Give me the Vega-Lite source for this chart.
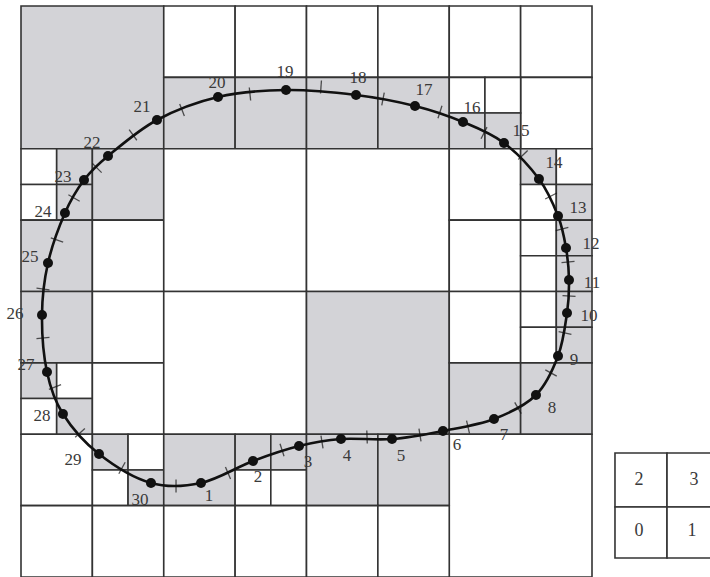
{
  "$schema": "https://vega.github.io/schema/vega-lite/v6.json",
  "width": 571,
  "height": 571,
  "autosize": {"type": "none"},
  "padding": {"left": 21, "top": 6, "right": 118, "bottom": 0},
  "background": "white",
  "config": {"view": {"stroke": null}},
  "datasets": {
    "cells": [
      {"x": 0, "x2": 2, "y": 6, "y2": 8, "shade": "gray"},
      {"x": 2, "x2": 3, "y": 7, "y2": 8, "shade": "white"},
      {"x": 3, "x2": 4, "y": 7, "y2": 8, "shade": "white"},
      {"x": 2, "x2": 3, "y": 6, "y2": 7, "shade": "gray"},
      {"x": 3, "x2": 4, "y": 6, "y2": 7, "shade": "gray"},
      {"x": 4, "x2": 5, "y": 7, "y2": 8, "shade": "white"},
      {"x": 5, "x2": 6, "y": 7, "y2": 8, "shade": "white"},
      {"x": 4, "x2": 5, "y": 6, "y2": 7, "shade": "gray"},
      {"x": 5, "x2": 6, "y": 6, "y2": 7, "shade": "gray"},
      {"x": 6, "x2": 7, "y": 7, "y2": 8, "shade": "white"},
      {"x": 7, "x2": 8, "y": 7, "y2": 8, "shade": "white"},
      {"x": 7, "x2": 8, "y": 6, "y2": 7, "shade": "white"},
      {"x": 6, "x2": 6.5, "y": 6.5, "y2": 7, "shade": "white"},
      {"x": 6.5, "x2": 7, "y": 6.5, "y2": 7, "shade": "white"},
      {"x": 6, "x2": 6.5, "y": 6, "y2": 6.5, "shade": "gray"},
      {"x": 6.5, "x2": 7, "y": 6, "y2": 6.5, "shade": "gray"},
      {"x": 0, "x2": 0.5, "y": 5.5, "y2": 6, "shade": "white"},
      {"x": 0.5, "x2": 1, "y": 5.5, "y2": 6, "shade": "gray"},
      {"x": 0, "x2": 0.5, "y": 5, "y2": 5.5, "shade": "white"},
      {"x": 0.5, "x2": 1, "y": 5, "y2": 5.5, "shade": "gray"},
      {"x": 1, "x2": 2, "y": 5, "y2": 6, "shade": "gray"},
      {"x": 0, "x2": 1, "y": 4, "y2": 5, "shade": "gray"},
      {"x": 1, "x2": 2, "y": 4, "y2": 5, "shade": "white"},
      {"x": 2, "x2": 4, "y": 4, "y2": 6, "shade": "white"},
      {"x": 4, "x2": 6, "y": 4, "y2": 6, "shade": "white"},
      {"x": 6, "x2": 7, "y": 5, "y2": 6, "shade": "white"},
      {"x": 6, "x2": 7, "y": 4, "y2": 5, "shade": "white"},
      {"x": 7, "x2": 7.5, "y": 5.5, "y2": 6, "shade": "gray"},
      {"x": 7.5, "x2": 8, "y": 5.5, "y2": 6, "shade": "white"},
      {"x": 7, "x2": 7.5, "y": 5, "y2": 5.5, "shade": "white"},
      {"x": 7.5, "x2": 8, "y": 5, "y2": 5.5, "shade": "gray"},
      {"x": 7, "x2": 7.5, "y": 4.5, "y2": 5, "shade": "white"},
      {"x": 7.5, "x2": 8, "y": 4.5, "y2": 5, "shade": "gray"},
      {"x": 7, "x2": 7.5, "y": 4, "y2": 4.5, "shade": "white"},
      {"x": 7.5, "x2": 8, "y": 4, "y2": 4.5, "shade": "gray"},
      {"x": 0, "x2": 1, "y": 3, "y2": 4, "shade": "gray"},
      {"x": 1, "x2": 2, "y": 3, "y2": 4, "shade": "white"},
      {"x": 0, "x2": 0.5, "y": 2.5, "y2": 3, "shade": "gray"},
      {"x": 0.5, "x2": 1, "y": 2.5, "y2": 3, "shade": "white"},
      {"x": 0, "x2": 0.5, "y": 2, "y2": 2.5, "shade": "white"},
      {"x": 0.5, "x2": 1, "y": 2, "y2": 2.5, "shade": "gray"},
      {"x": 1, "x2": 2, "y": 2, "y2": 3, "shade": "white"},
      {"x": 2, "x2": 4, "y": 2, "y2": 4, "shade": "white"},
      {"x": 4, "x2": 6, "y": 2, "y2": 4, "shade": "gray"},
      {"x": 6, "x2": 7, "y": 3, "y2": 4, "shade": "white"},
      {"x": 7, "x2": 7.5, "y": 3.5, "y2": 4, "shade": "white"},
      {"x": 7.5, "x2": 8, "y": 3.5, "y2": 4, "shade": "gray"},
      {"x": 7, "x2": 7.5, "y": 3, "y2": 3.5, "shade": "white"},
      {"x": 7.5, "x2": 8, "y": 3, "y2": 3.5, "shade": "gray"},
      {"x": 6, "x2": 7, "y": 2, "y2": 3, "shade": "gray"},
      {"x": 7, "x2": 8, "y": 2, "y2": 3, "shade": "gray"},
      {"x": 6, "x2": 8, "y": 0, "y2": 2, "shade": "white"},
      {"x": 0, "x2": 1, "y": 1, "y2": 2, "shade": "white"},
      {"x": 1, "x2": 1.5, "y": 1.5, "y2": 2, "shade": "gray"},
      {"x": 1.5, "x2": 2, "y": 1.5, "y2": 2, "shade": "white"},
      {"x": 1, "x2": 1.5, "y": 1, "y2": 1.5, "shade": "white"},
      {"x": 1.5, "x2": 2, "y": 1, "y2": 1.5, "shade": "gray"},
      {"x": 2, "x2": 3, "y": 1, "y2": 2, "shade": "gray"},
      {"x": 3, "x2": 3.5, "y": 1.5, "y2": 2, "shade": "gray"},
      {"x": 3.5, "x2": 4, "y": 1.5, "y2": 2, "shade": "gray"},
      {"x": 3, "x2": 3.5, "y": 1, "y2": 1.5, "shade": "white"},
      {"x": 3.5, "x2": 4, "y": 1, "y2": 1.5, "shade": "white"},
      {"x": 4, "x2": 5, "y": 1, "y2": 2, "shade": "gray"},
      {"x": 5, "x2": 6, "y": 1, "y2": 2, "shade": "gray"},
      {"x": 0, "x2": 1, "y": 0, "y2": 1, "shade": "white"},
      {"x": 1, "x2": 2, "y": 0, "y2": 1, "shade": "white"},
      {"x": 2, "x2": 3, "y": 0, "y2": 1, "shade": "white"},
      {"x": 3, "x2": 4, "y": 0, "y2": 1, "shade": "white"},
      {"x": 4, "x2": 5, "y": 0, "y2": 1, "shade": "white"},
      {"x": 5, "x2": 6, "y": 0, "y2": 1, "shade": "white"}
    ],
    "key": [
      {"x": 8.322, "x2": 9.051, "y": 0.981, "y2": 1.737, "q": "2", "lx": 8.658, "ly": 1.359},
      {"x": 9.051, "x2": 9.78, "y": 0.981, "y2": 1.737, "q": "3", "lx": 9.429, "ly": 1.359},
      {"x": 8.322, "x2": 9.051, "y": 0.266, "y2": 0.981, "q": "0", "lx": 8.658, "ly": 0.644},
      {"x": 9.051, "x2": 9.78, "y": 0.266, "y2": 0.981, "q": "1", "lx": 9.401, "ly": 0.644}
    ],
    "pts": [
      {"n": 1, "x": 2.522, "y": 1.317, "lx": 2.634, "ly": 1.135},
      {"n": 2, "x": 3.25, "y": 1.625, "lx": 3.32, "ly": 1.401},
      {"n": 3, "x": 3.895, "y": 1.835, "lx": 4.021, "ly": 1.611},
      {"n": 4, "x": 4.483, "y": 1.933, "lx": 4.567, "ly": 1.695},
      {"n": 5, "x": 5.198, "y": 1.933, "lx": 5.324, "ly": 1.695},
      {"n": 6, "x": 5.912, "y": 2.046, "lx": 6.109, "ly": 1.849},
      {"n": 7, "x": 6.627, "y": 2.214, "lx": 6.767, "ly": 1.989},
      {"n": 8, "x": 7.215, "y": 2.55, "lx": 7.44, "ly": 2.368},
      {"n": 9, "x": 7.524, "y": 3.096, "lx": 7.748, "ly": 3.04},
      {"n": 10, "x": 7.65, "y": 3.699, "lx": 7.958, "ly": 3.657},
      {"n": 11, "x": 7.678, "y": 4.161, "lx": 8.0, "ly": 4.119},
      {"n": 12, "x": 7.636, "y": 4.609, "lx": 7.986, "ly": 4.665},
      {"n": 13, "x": 7.524, "y": 5.058, "lx": 7.804, "ly": 5.17},
      {"n": 14, "x": 7.257, "y": 5.576, "lx": 7.468, "ly": 5.8},
      {"n": 15, "x": 6.767, "y": 6.081, "lx": 7.005, "ly": 6.249},
      {"n": 16, "x": 6.193, "y": 6.375, "lx": 6.319, "ly": 6.571},
      {"n": 17, "x": 5.52, "y": 6.599, "lx": 5.646, "ly": 6.823},
      {"n": 18, "x": 4.694, "y": 6.753, "lx": 4.722, "ly": 6.991},
      {"n": 19, "x": 3.713, "y": 6.823, "lx": 3.699, "ly": 7.075},
      {"n": 20, "x": 2.76, "y": 6.725, "lx": 2.746, "ly": 6.921},
      {"n": 21, "x": 1.905, "y": 6.403, "lx": 1.695, "ly": 6.585},
      {"n": 22, "x": 1.219, "y": 5.898, "lx": 0.995, "ly": 6.081},
      {"n": 23, "x": 0.883, "y": 5.562, "lx": 0.588, "ly": 5.604},
      {"n": 24, "x": 0.616, "y": 5.1, "lx": 0.308, "ly": 5.114},
      {"n": 25, "x": 0.378, "y": 4.399, "lx": 0.126, "ly": 4.483},
      {"n": 26, "x": 0.294, "y": 3.671, "lx": -0.084, "ly": 3.685},
      {"n": 27, "x": 0.364, "y": 2.872, "lx": 0.07, "ly": 2.97},
      {"n": 28, "x": 0.588, "y": 2.284, "lx": 0.294, "ly": 2.256},
      {"n": 29, "x": 1.093, "y": 1.723, "lx": 0.729, "ly": 1.639},
      {"n": 30, "x": 1.821, "y": 1.317, "lx": 1.667, "ly": 1.079}
    ],
    "ticks": [
      {"x": 2.172, "y": 1.275, "a": 0},
      {"x": 2.9, "y": 1.457, "a": -23},
      {"x": 3.657, "y": 1.779, "a": -18},
      {"x": 4.217, "y": 1.891, "a": -9},
      {"x": 4.848, "y": 1.961, "a": -2},
      {"x": 5.59, "y": 1.989, "a": -9},
      {"x": 6.263, "y": 2.102, "a": -13},
      {"x": 6.963, "y": 2.368, "a": -30},
      {"x": 7.426, "y": 2.858, "a": -61},
      {"x": 7.622, "y": 3.419, "a": -78},
      {"x": 7.678, "y": 3.937, "a": -87},
      {"x": 7.664, "y": 4.413, "a": -95},
      {"x": 7.58, "y": 4.876, "a": -104},
      {"x": 7.426, "y": 5.338, "a": -117},
      {"x": 7.033, "y": 5.912, "a": -134},
      {"x": 6.487, "y": 6.221, "a": -153},
      {"x": 5.87, "y": 6.515, "a": -162},
      {"x": 5.072, "y": 6.697, "a": -169},
      {"x": 4.203, "y": 6.865, "a": -176},
      {"x": 3.208, "y": 6.767, "a": 174},
      {"x": 2.256, "y": 6.543, "a": 159},
      {"x": 1.569, "y": 6.193, "a": 144},
      {"x": 1.065, "y": 5.73, "a": 135},
      {"x": 0.743, "y": 5.31, "a": 120},
      {"x": 0.504, "y": 4.722, "a": 109},
      {"x": 0.308, "y": 4.035, "a": 97},
      {"x": 0.308, "y": 3.349, "a": 85},
      {"x": 0.476, "y": 2.662, "a": 69},
      {"x": 0.827, "y": 2.018, "a": 48},
      {"x": 1.415, "y": 1.527, "a": 29}
    ]
  },
  "layer": [
    {
      "data": {"name": "cells"},
      "mark": {"type": "rect", "stroke": "#333333", "strokeWidth": 1.6},
      "encoding": {
        "x": {"field": "x", "type": "quantitative", "scale": {"domain": [0, 8], "nice": false, "zero": false}, "axis": null},
        "x2": {"field": "x2"},
        "y": {"field": "y", "type": "quantitative", "scale": {"domain": [0, 8], "nice": false, "zero": false}, "axis": null},
        "y2": {"field": "y2"},
        "fill": {"field": "shade", "type": "nominal", "scale": {"domain": ["gray", "white"], "range": ["#d3d3d7", "#ffffff"]}, "legend": null}
      }
    },
    {
      "data": {"name": "key"},
      "mark": {"type": "rect", "fill": "#ffffff", "stroke": "#333333", "strokeWidth": 1.6},
      "encoding": {
        "x": {"field": "x", "type": "quantitative"},
        "x2": {"field": "x2"},
        "y": {"field": "y", "type": "quantitative"},
        "y2": {"field": "y2"}
      }
    },
    {
      "data": {"name": "key"},
      "mark": {"type": "text", "font": "Liberation Serif", "fontSize": 18, "color": "#3a3a3a", "baseline": "middle", "align": "center"},
      "encoding": {
        "x": {"field": "lx", "type": "quantitative"},
        "y": {"field": "ly", "type": "quantitative"},
        "text": {"field": "q"}
      }
    },
    {
      "data": {"name": "pts"},
      "mark": {"type": "line", "interpolate": "cardinal-closed", "tension": 0, "color": "#111111", "strokeWidth": 2.6},
      "encoding": {
        "x": {"field": "x", "type": "quantitative"},
        "y": {"field": "y", "type": "quantitative"},
        "order": {"field": "n", "type": "quantitative"}
      }
    },
    {
      "data": {"name": "ticks"},
      "mark": {"type": "point", "shape": "M0,-1L0,1", "filled": false, "stroke": "#111111", "strokeWidth": 1.3, "size": 170},
      "encoding": {
        "x": {"field": "x", "type": "quantitative"},
        "y": {"field": "y", "type": "quantitative"},
        "angle": {"field": "a", "type": "quantitative", "scale": null}
      }
    },
    {
      "data": {"name": "pts"},
      "mark": {"type": "point", "filled": true, "color": "#111111", "opacity": 1, "size": 100},
      "encoding": {
        "x": {"field": "x", "type": "quantitative"},
        "y": {"field": "y", "type": "quantitative"}
      }
    },
    {
      "data": {"name": "pts"},
      "mark": {"type": "text", "font": "Liberation Serif", "fontSize": 17, "color": "#3a3a3a", "baseline": "middle", "align": "center"},
      "encoding": {
        "x": {"field": "lx", "type": "quantitative"},
        "y": {"field": "ly", "type": "quantitative"},
        "text": {"field": "n", "type": "quantitative"}
      }
    }
  ]
}
